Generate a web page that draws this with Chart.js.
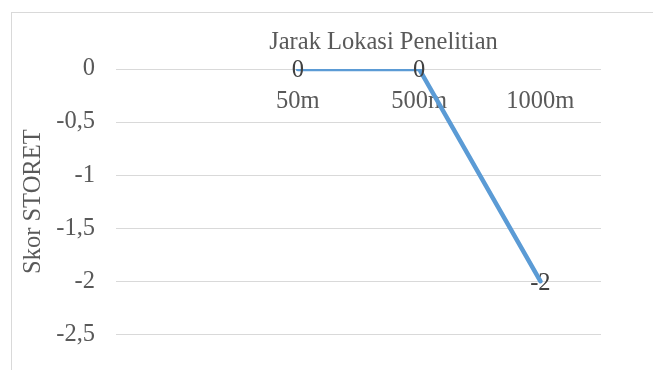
<!DOCTYPE html>
<html>
<head>
<meta charset="utf-8">
<script src="https://cdn.jsdelivr.net/npm/chart.js@4/dist/chart.umd.min.js"></script>
<style>
  html, body { margin: 0; padding: 0; background: #fff; overflow: hidden; }
  #wrap { position: relative; width: 653px; height: 370px; }
  #frame { position: absolute; left: 11px; top: 12px; width: 700px; height: 400px;
           border: 1px solid #d9d9d9; box-sizing: border-box; }
  #chart { position: absolute; left: 0; top: 0; }
</style>
</head>
<body>
<div id="wrap">
  <div id="frame"></div>
  <canvas id="chart" width="653" height="370"></canvas>
</div>
<script>
// Jarak lokasi (kategori pertama kosong) dan skor STORET
const categories = ["", "50m", "500m", "1000m"];
const skorStoret = [null, 0, 0, -2];
const yTicks = [0, -0.5, -1, -1.5, -2, -2.5];
const xTitle = "Jarak Lokasi Penelitian";
const yTitle = "Skor STORET";

const FONT = "'Liberation Serif', 'Times New Roman', serif";
const FS = 24.5;
const fmt = v => String(v).replace('.', ',');

// Judul sumbu X di atas area plot
const xTitlePlugin = {
  id: 'xTitle',
  afterDraw(chart) {
    const { ctx, chartArea } = chart;
    ctx.save();
    ctx.font = FS + 'px ' + FONT;
    ctx.fillStyle = '#595959';
    ctx.textAlign = 'center';
    ctx.textBaseline = 'middle';
    ctx.fillText(xTitle, (chartArea.left + chartArea.right) / 2 + 25, 43);
    ctx.restore();
  }
};

// Label nilai di tengah setiap titik
const valueLabels = {
  id: 'valueLabels',
  afterDatasetsDraw(chart) {
    const { ctx } = chart;
    const meta = chart.getDatasetMeta(0);
    ctx.save();
    ctx.font = FS + 'px ' + FONT;
    ctx.fillStyle = '#404040';
    ctx.textAlign = 'center';
    ctx.textBaseline = 'middle';
    meta.data.forEach((pt, i) => {
      const v = skorStoret[i];
      if (v === null || v === undefined) return;
      ctx.fillText(fmt(v), pt.x, pt.y + 2);
    });
    ctx.restore();
  }
};

new Chart(document.getElementById('chart'), {
  type: 'line',
  data: {
    labels: categories,
    datasets: [{
      data: skorStoret,
      borderColor: '#5B9BD5',
      borderWidth: 4.5,
      borderCapStyle: 'round',
      borderJoinStyle: 'round',
      pointRadius: 0,
      spanGaps: false,
      fill: false
    }]
  },
  options: {
    responsive: false,
    animation: false,
    layout: { padding: { left: 0, right: 52, top: 69, bottom: 34 } },
    plugins: { legend: { display: false }, tooltip: { enabled: false }, title: { display: false } },
    scales: {
      x: {
        type: 'category',
        position: { y: 0 },
        offset: true,
        grid: { display: false },
        border: { display: false },
        ticks: {
          color: '#595959',
          font: { family: FONT, size: FS },
          padding: 10,
          maxRotation: 0,
          autoSkip: false
        }
      },
      y: {
        min: -2.5,
        max: 0,
        afterFit(scale) { scale.width = 116; },
        afterBuildTicks(scale) { scale.ticks = yTicks.map(v => ({ value: v })); },
        grid: { color: '#d9d9d9', lineWidth: 1, drawTicks: false },
        border: { display: false },
        ticks: {
          color: '#595959',
          font: { family: FONT, size: FS },
          padding: 21,
          callback: v => fmt(v)
        },
        title: {
          display: true,
          text: yTitle,
          color: '#595959',
          font: { family: FONT, size: FS },
          padding: { top: 19, bottom: 0 }
        }
      }
    }
  },
  plugins: [xTitlePlugin, valueLabels]
});
</script>
</body>
</html>
